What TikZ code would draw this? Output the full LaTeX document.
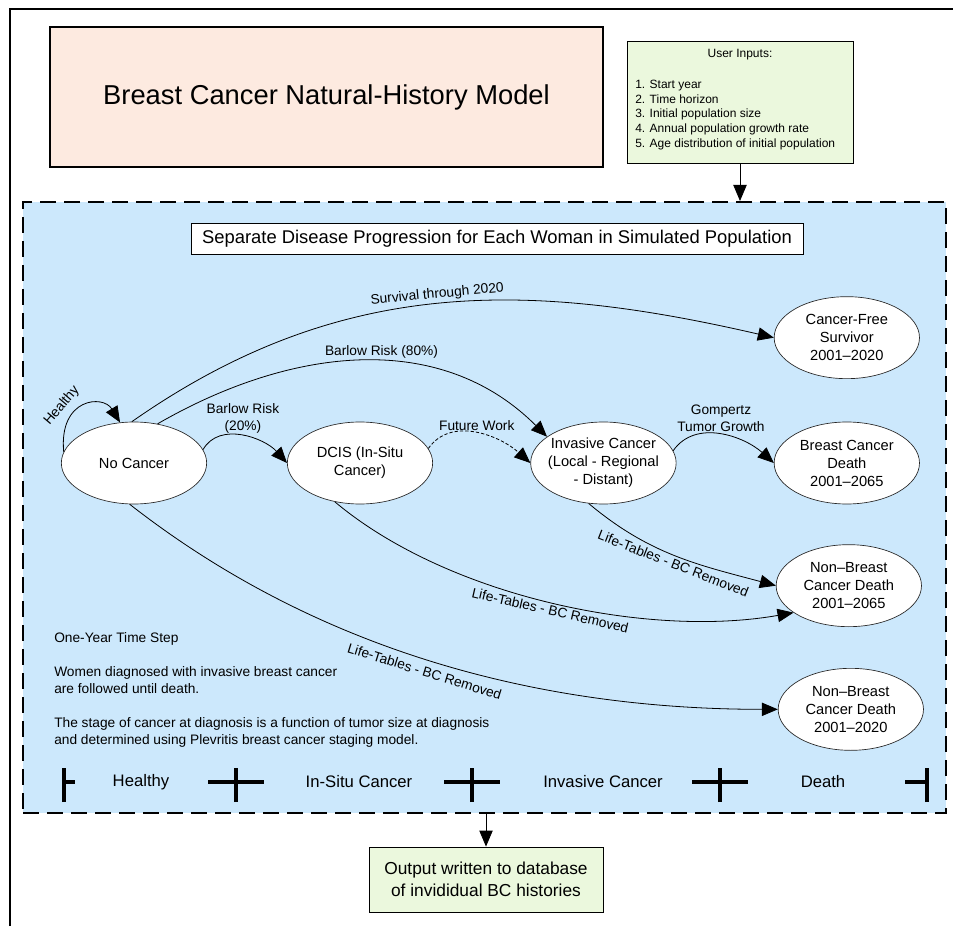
\documentclass[tikz,border=0pt]{standalone}
\usepackage{fontspec}
\setmainfont{Liberation Sans}
\usetikzlibrary{shapes.geometric, arrows.meta, positioning}
\definecolor{colTitle}{RGB}{253,234,224}
\definecolor{colIO}{RGB}{235,248,221}
\definecolor{colSim}{RGB}{204,232,252}

\begin{document}
\begin{tikzpicture}[
            x=0.75pt, y=0.75pt,
            box/.style={rectangle, draw, align=center},
            state/.style={ellipse, draw=black!85, fill=white, line width=0.5pt, minimum width=109pt, minimum height=61.5pt,
                inner xsep=-3pt, inner ysep=0pt, align=center, font=\fontsize{11}{13.5}\selectfont},
            arrow/.style={-{Triangle[length=12pt, width=10pt]}, line width=0.6pt},
            lbl/.style={font=\fontsize{10.3}{12.5}\selectfont, inner sep=2pt, align=center},
            tl/.style={font=\fontsize{12.5}{15}\selectfont},
            tick/.style={line width=2.5pt}
        ]
        \useasboundingbox (0,0) rectangle (953,926);

        %% ── CADRE ET EN-TÊTE ────────────────────────────
        \draw[line width=1pt] (10,0) |- (953,917);

        \node[box, fill=colTitle, line width=1.5pt, minimum width=414.75pt, minimum height=105pt,
            font=\fontsize{20.5}{24}\selectfont] (title) at (326.5,829) {Breast Cancer Natural-History Model};

        \node[box, fill=colIO, line width=0.6pt, minimum width=169.5pt, minimum height=91.5pt] (inputs) at (740,824) {};
        \node[font=\fontsize{9}{11}\selectfont] (inputs_head) at (740,871) {User Inputs:};
        \node[font=\fontsize{9}{11}\selectfont, align=left, anchor=north west, inner sep=0pt]
            (inputs_list) at (635,846)
            {1. Start year\\2. Time horizon\\3. Initial population size\\4. Annual population growth rate\\5. Age distribution of initial population};

        %% ── BLOC BLEU : SIMULATION ─────────────────────
        \node[box, fill=colSim, line width=1.5pt, dash pattern=on 12pt off 6pt,
            minimum width=692.25pt, minimum height=458.25pt] (sim) at (484.5,418.5) {};

        \node[box, fill=white, line width=0.6pt, minimum width=459pt, minimum height=23.25pt,
            font=\fontsize{13.8}{16}\selectfont] (header) at (497,687.5)
            {Separate Disease Progression for Each Woman in Simulated Population};

        %% États
        \node[state] (no_cancer) at (134,463) {No Cancer};
        \node[state, right=60pt of no_cancer] (dcis) {DCIS (In-Situ\\Cancer)};
        \node[state, right=73pt of dcis] (invasive) {Invasive Cancer\\(Local - Regional\\- Distant)};
        \node[state, right=73pt of invasive] (bc_death) {Breast Cancer\\Death\\2001--2065};
        \node[state, above=32pt of bc_death] (cf_surv) {Cancer-Free\\Survivor\\2001--2020};
        \node[state, below=30pt of bc_death, xshift=1.5pt] (nbd_65) {Non--Breast\\Cancer Death\\2001--2065};
        \node[state, below=30.75pt of nbd_65, xshift=1.5pt] (nbd_20) {Non--Breast\\Cancer Death\\2001--2020};

        % Transitions
        \draw[arrow] (no_cancer.171) .. controls +(-5,54) and +(-17,28) .. (no_cancer.109)
            node[lbl, pos=0.33, sloped, above=3pt] (lbl_healthy) {Healthy};
        \draw[arrow] (no_cancer.93) to[out=35, in=167]
            node[lbl, midway, sloped, above] (lbl_survival) {Survival through 2020} (cf_surv.west);
        \draw[arrow] (no_cancer.59) to[out=30, in=135]
            node[lbl, pos=0.55, above] (lbl_barlow80) {Barlow Risk (80\%)} (invasive.155);
        \draw[arrow] (no_cancer.11) to[out=60, in=132]
            node[lbl, midway, above] (lbl_barlow20) {Barlow Risk\\(20\%)} (dcis.west);
        \draw[arrow, dash pattern=on 2.5pt off 1.5pt] (dcis.12) to[out=55, in=138]
            node[lbl, midway, above] (lbl_future) {Future Work} (invasive.west);
        \draw[arrow] (invasive.10) to[out=55, in=138]
            node[lbl, midway, above] (lbl_gompertz) {Gompertz\\Tumor Growth} (bc_death.west);

        % Life-Tables
        \draw[arrow] (invasive.250) to[out=-40, in=165]
            node[lbl, midway, sloped, below] (lbl_lt_inv) {Life-Tables - BC Removed} (nbd_65.west);
        \draw[arrow] (dcis.237) to[out=-40, in=190, looseness=0.8]
            node[lbl, midway, sloped, below] (lbl_lt_dcis) {Life-Tables - BC Removed} (nbd_65.206);
        \draw[arrow] (no_cancer.264) to[out=-38, in=180, looseness=0.9]
            node[lbl, pos=0.49, sloped, below=3pt] (lbl_lt_none) {Life-Tables - BC Removed} (nbd_20.west);

        % Notes
        \node[font=\fontsize{10.3}{12.75}\selectfont, align=left, anchor=north west, inner sep=0pt] (notes) at (54,294)
            {One-Year Time Step\\[12.75pt]
             Women diagnosed with invasive breast cancer\\are followed until death.\\[12.75pt]
             The stage of cancer at diagnosis is a function of tumor size at diagnosis\\
             and determined using Plevritis breast cancer staging model.};

        %% ── LIGNE DU TEMPS ─────────────────────────────
        \draw[tick] (64,124) -- (64,158);
        \draw[tick] (64,144) -- (75,144);
        \foreach \cx in {236,472,720} {
            \draw[tick] (\cx-28,144) -- (\cx+28,144);
            \draw[tick] (\cx,124) -- (\cx,158);
        }
        \draw[tick] (927,124) -- (927,158);
        \draw[tick] (905,144) -- (927,144);

        \node[tl] (tl_healthy) at (141,144) {Healthy};
        \node[tl] (tl_insitu) at (359,144) {In-Situ Cancer};
        \node[tl] (tl_invasive) at (603,144) {Invasive Cancer};
        \node[tl] (tl_death) at (823,144) {Death};

        %% ── SORTIE ─────────────────────────────────────
        \node[box, fill=colIO, line width=0.6pt, minimum width=175.5pt, minimum height=48.75pt,
            font=\fontsize{13}{16.5}\selectfont] (output) at (486,46.5)
            {Output written to database\\of invididual BC histories};

        \draw[arrow] (inputs.south) -- (inputs.south |- sim.north);
        \draw[arrow] (output.north |- sim.south) -- (output.north);

\end{tikzpicture}
\end{document}
